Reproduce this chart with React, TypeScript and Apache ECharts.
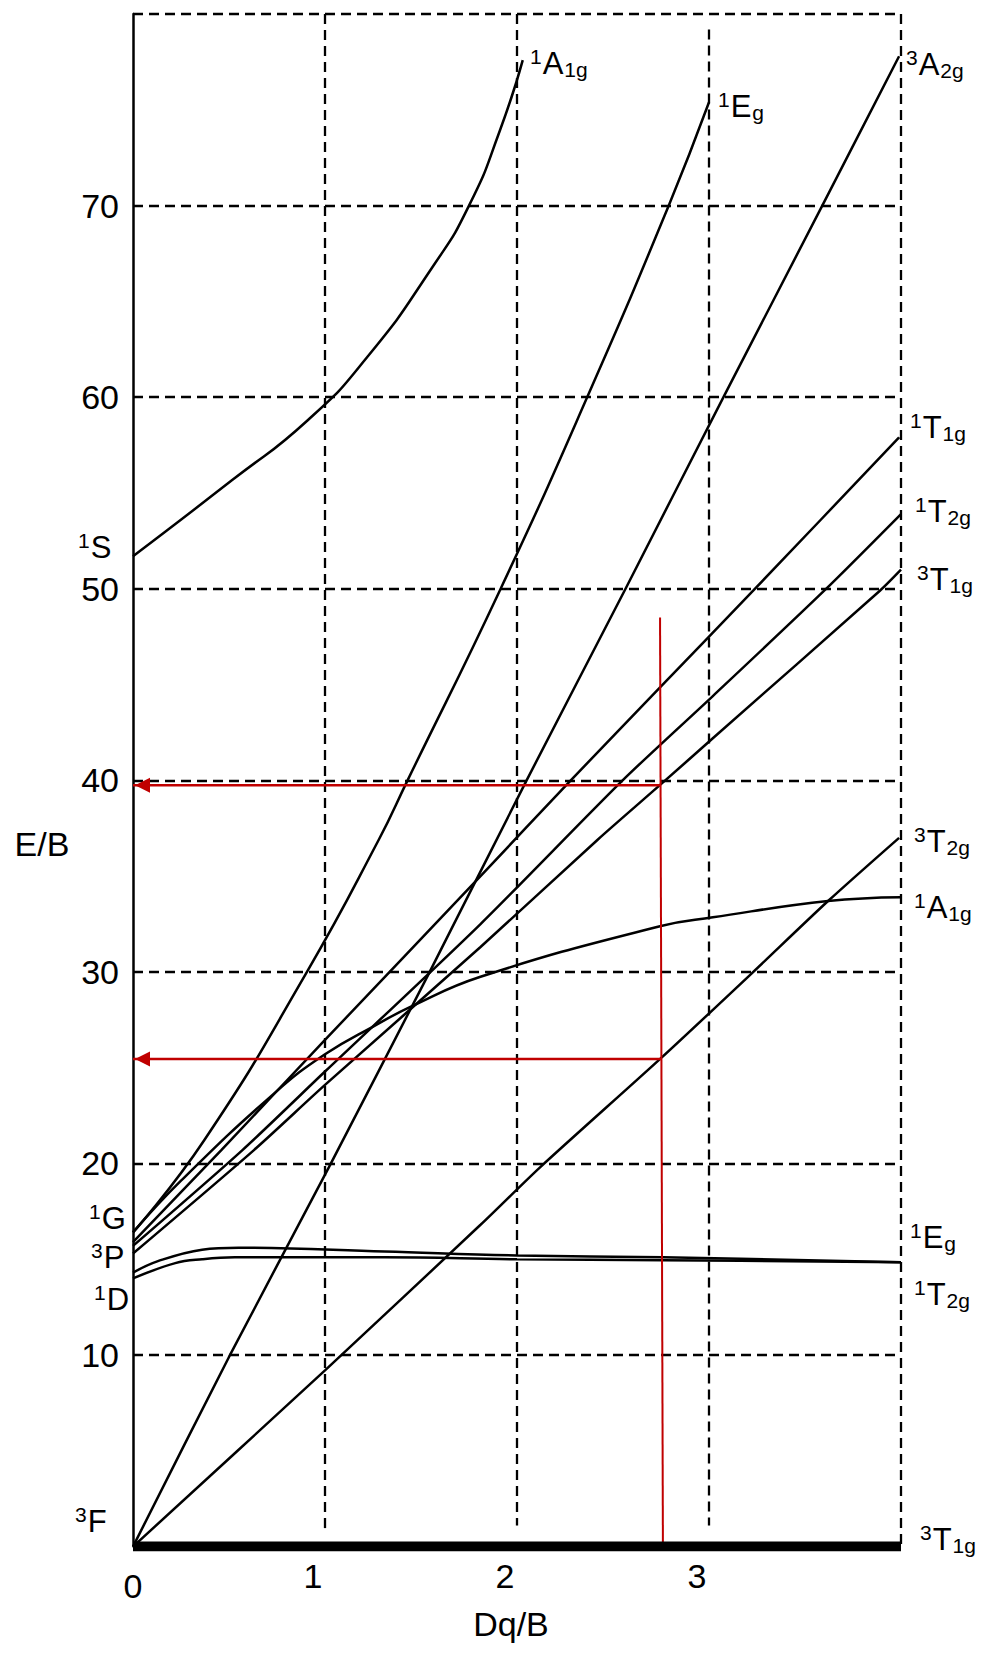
import React, { useEffect, useRef } from 'react';
import * as echarts from 'echarts';

// ---------- data (Dq/B, E/B) ----------
const xTickLabels = ['0', '1', '2', '3'];
const yTickLabels = [10, 20, 30, 40, 50, 60, 70];
// vertical dashed grid lines: [Dq, E top, E bottom]
const vGridLines: number[][] = [[1, 80, 0.95], [2, 80, 1.1], [3, 79.2, 1.1], [4, 80, 0]];

const ground3T1g: number[][] = [[0, 0], [4, 0]];
const upper1A1g: number[][] = [[0, 51.7], [0.52, 55.7], [0.91, 58.8], [1.22, 62.1], [1.56, 66.8], [1.75, 70.0], [1.91, 73.9], [2.03, 77.6]];
const steep1Eg: number[][] = [[0, 16.4], [0.37, 21.2], [0.9, 29.9], [1.28, 36.9], [1.43, 40.0], [1.91, 49.9], [2.37, 60.1], [2.79, 70.0], [3.0, 75.4]];
const line3A2g: number[][] = [[0, 0], [0.5, 9.9], [1.02, 19.8], [1.54, 29.9], [2.05, 40.0], [2.56, 49.9], [3.08, 60.1], [3.59, 70.0], [3.99, 77.8]];
const line1T1g: number[][] = [[0, 15.9], [0.46, 20.7], [1.0, 26.45], [1.81, 35.0], [2.28, 40.0], [2.75, 44.9], [3.23, 49.9], [3.99, 57.9]];
const line1T2g: number[][] = [[0, 15.7], [0.57, 20.7], [1.0, 24.8], [1.81, 32.5], [2.55, 40.0], [3.02, 44.4], [3.6, 49.9], [4.0, 53.9]];
const line3T1g: number[][] = [[0, 15.3], [0.63, 20.7], [1.0, 24.1], [1.81, 31.3], [2.42, 36.9], [2.75, 39.8], [3.02, 42.2], [3.89, 49.9], [4.0, 51.0]];
const line3T2g: number[][] = [[0, 0], [1.0, 9.2], [1.81, 16.8], [2.12, 19.8], [2.75, 25.5], [3.22, 29.9], [3.62, 33.7], [3.99, 37.0]];
const lower1A1g: number[][] = [[0, 16.4], [0.25, 19.1], [0.74, 23.7], [1.0, 25.7], [1.26, 27.2], [1.45, 28.2], [1.81, 29.75], [2.75, 32.4], [3.02, 32.85], [3.62, 33.7], [4.0, 33.9]];
const flat1Eg: number[][] = [[0, 14.3], [0.13, 14.9], [0.36, 15.5], [0.55, 15.6], [1.31, 15.4], [2.0, 15.2], [2.76, 15.1], [4.0, 14.85]];
const flat1T2g: number[][] = [[0, 14.0], [0.22, 14.8], [0.36, 15.0], [0.53, 15.1], [1.31, 15.1], [2.0, 15.0], [2.76, 14.95], [4.0, 14.85]];

const redVertical: number[][] = [[2.745, 48.5], [2.76, 0]];
const redArrowHigh: number[][] = [[2.745, 39.75], [0, 39.75]];
const redArrowLow: number[][] = [[2.753, 25.45], [0, 25.45]];

const stateLabels = [
  { sup: '1', main: 'A', sub: '1g', x: 530, y: 63 },
  { sup: '1', main: 'E', sub: 'g', x: 718, y: 106 },
  { sup: '3', main: 'A', sub: '2g', x: 906, y: 64 },
  { sup: '1', main: 'T', sub: '1g', x: 910, y: 427 },
  { sup: '1', main: 'T', sub: '2g', x: 915, y: 511 },
  { sup: '3', main: 'T', sub: '1g', x: 917, y: 579 },
  { sup: '3', main: 'T', sub: '2g', x: 914, y: 841 },
  { sup: '1', main: 'A', sub: '1g', x: 914, y: 907 },
  { sup: '1', main: 'E', sub: 'g', x: 910, y: 1237 },
  { sup: '1', main: 'T', sub: '2g', x: 914, y: 1294 },
  { sup: '3', main: 'T', sub: '1g', x: 920, y: 1539 },
  { sup: '1', main: 'S', sub: '', x: 78, y: 547 },
  { sup: '1', main: 'G', sub: '', x: 89, y: 1218 },
  { sup: '3', main: 'P', sub: '', x: 91, y: 1257 },
  { sup: '1', main: 'D', sub: '', x: 94, y: 1299 },
  { sup: '3', main: 'F', sub: '', x: 75, y: 1521 },
];

const FONT = 'Liberation Sans, Arial, sans-serif';
const BLACK = '#000000';
const RED = '#c00000';
const DASH = [10, 6];

function curve(name: string, data: number[][], smooth: number) {
  return {
    name,
    type: 'line',
    data,
    smooth,
    symbol: 'none',
    showSymbol: false,
    silent: true,
    lineStyle: { color: BLACK, width: 2.5 },
    z: 3,
  };
}

function arrow(name: string, data: number[][]) {
  return {
    name,
    type: 'line',
    symbol: 'triangle',
    showSymbol: true,
    silent: true,
    itemStyle: { color: RED },
    lineStyle: { color: RED, width: 2.5 },
    data: [
      { value: data[0], symbol: 'none' },
      { value: data[1], symbol: 'triangle', symbolSize: 15, symbolRotate: 90, symbolOffset: [9.5, 0] },
    ],
    z: 4,
  };
}

export default function App() {
  const ref = useRef<HTMLDivElement>(null);
  useEffect(() => {
    document.body.style.margin = '0';
    if (!ref.current) return;
    const chart = echarts.init(ref.current, null, { renderer: 'svg' });
    const labelGraphics = stateLabels.map((l) => {
      let text = `{p|${l.sup}}{m|${l.main}}`;
      if (l.sub) text += `{b|${l.sub}}`;
      return {
        type: 'text',
        x: l.x,
        y: l.y,
        silent: true,
        style: {
          text,
          align: 'left',
          verticalAlign: 'middle',
          fill: BLACK,
          rich: {
            p: { fontSize: 21, fontFamily: FONT, fill: BLACK, lineHeight: 17, verticalAlign: 'top', padding: [0, 1, 0, 0] },
            m: { fontSize: 31, fontFamily: FONT, fill: BLACK, lineHeight: 34, verticalAlign: 'middle' },
            b: { fontSize: 21, fontFamily: FONT, fill: BLACK, lineHeight: 14, verticalAlign: 'bottom', padding: [0, 0, 0, 1] },
          },
        },
      };
    });
    const option: any = {
      animation: false,
      textStyle: { fontFamily: FONT },
      grid: { left: 133, right: 85, top: 14.1, bottom: 107.4, containLabel: false, outerBoundsMode: 'none' },
      xAxis: {
        type: 'value',
        min: 0,
        max: 4,
        interval: 1,
        axisLine: { show: false },
        axisTick: { show: false },
        splitLine: { show: false },
        axisLabel: {
          showMinLabel: true,
          showMaxLabel: true,
          margin: 12,
          color: BLACK,
          fontSize: 34,
          fontFamily: FONT,
          formatter: (v: number) => {
            const t = xTickLabels[Math.round(v)];
            if (t === undefined) return '';
            return v === 0 ? `{z|${t}}` : `{n|${t}}`;
          },
          rich: {
            z: { fontSize: 34, color: BLACK, fontFamily: FONT, padding: [10, 0, 0, 0] },
            n: { fontSize: 34, color: BLACK, fontFamily: FONT, padding: [0, 24, 0, 0] },
          },
        },
      },
      yAxis: {
        type: 'value',
        min: 0,
        max: 80,
        interval: 10,
        axisLine: { show: true, lineStyle: { color: BLACK, width: 2.5 } },
        axisTick: { show: false },
        splitLine: { show: true, lineStyle: { color: BLACK, width: 2.3, type: DASH } },
        axisLabel: {
          margin: 14,
          color: BLACK,
          fontSize: 34,
          fontFamily: FONT,
          formatter: (v: number) => (yTickLabels.indexOf(v) >= 0 ? String(v) : ''),
        },
      },
      series: [
        curve('1A1g (1S)', upper1A1g, 0.55),
        curve('1Eg', steep1Eg, 0.5),
        curve('3A2g', line3A2g, 0.25),
        curve('1T1g', line1T1g, 0.25),
        curve('1T2g', line1T2g, 0.25),
        curve('3T1g (3P)', line3T1g, 0.25),
        curve('3T2g', line3T2g, 0.25),
        curve('1A1g', lower1A1g, 0.45),
        curve('1Eg (1D)', flat1Eg, 0.4),
        curve('1T2g (1D)', flat1T2g, 0.4),
        {
          name: 'red vertical',
          type: 'line',
          data: redVertical,
          symbol: 'none',
          showSymbol: false,
          silent: true,
          lineStyle: { color: RED, width: 2 },
          z: 4,
        },
        arrow('red arrow high', redArrowHigh),
        arrow('red arrow low', redArrowLow),
        {
          name: '3T1g ground',
          type: 'line',
          data: ground3T1g,
          symbol: 'none',
          showSymbol: false,
          silent: true,
          lineStyle: { color: BLACK, width: 10, cap: 'butt' },
          z: 5,
          markLine: {
            silent: true,
            symbol: ['none', 'none'],
            label: { show: false },
            lineStyle: { color: BLACK, width: 2.3, type: DASH },
            z: 1,
            data: vGridLines.map((g) => [
              { coord: [g[0], g[1]] },
              { coord: [g[0], g[2]] },
            ]),
          },
        },
      ],
      graphic: [
        {
          type: 'text',
          x: 42,
          y: 844,
          silent: true,
          style: { text: 'E/B', fill: BLACK, fontSize: 34, fontFamily: FONT, align: 'center', verticalAlign: 'middle' },
        },
        {
          type: 'text',
          x: 511,
          y: 1624,
          silent: true,
          style: { text: 'Dq/B', fill: BLACK, fontSize: 34, fontFamily: FONT, align: 'center', verticalAlign: 'middle' },
        },
        ...labelGraphics,
      ],
    };
    chart.setOption(option);
    return () => chart.dispose();
  }, []);
  return <div ref={ref} style={{ width: 986, height: 1654 }} />;
}
